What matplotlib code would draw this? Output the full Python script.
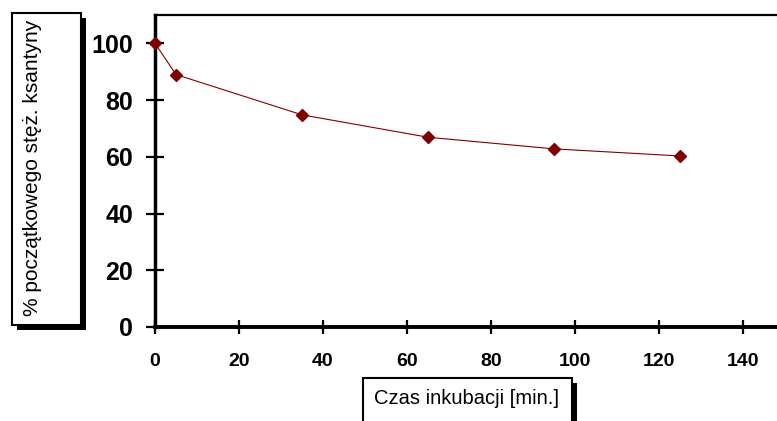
import matplotlib.pyplot as plt
from matplotlib.patches import Rectangle

# incubation time [min] and % of initial xanthine concentration
czas = [0, 5, 35, 65, 95, 125]
procent = [100, 89, 74.8, 66.9, 62.8, 60.3]
x_ticks = [0, 20, 40, 60, 80, 100, 120, 140]
y_ticks = [0, 20, 40, 60, 80, 100]

W, H = 777, 421
plt.rcParams['font.family'] = ['Liberation Sans', 'DejaVu Sans']

fig = plt.figure(figsize=(W / 100, H / 100), dpi=100)


def px(x, y):
    # pixel coords (top-left origin) -> figure fraction
    return x / W, 1 - y / H


left, top = px(155, 15)
right, bottom = px(785, 327)
ax = fig.add_axes([left, bottom, right - left, top - bottom])

ax.plot(czas, procent, color='#800000', lw=0.8, marker='D', ms=6.3,
        mfc='#800000', mec='#800000', clip_on=False, zorder=5)

ax.set_xlim(0, 150)
ax.set_ylim(0, 110)
ax.set_xticks(x_ticks)
ax.set_yticks(y_ticks)
ax.tick_params(axis='both', direction='inout', width=1.6, color='black')
ax.tick_params(axis='x', length=10.5, labelsize=14, pad=13.5)
ax.tick_params(axis='y', length=13, labelsize=18, pad=9.3)
for lab in ax.get_xticklabels() + ax.get_yticklabels():
    lab.set_fontweight('bold')

ax.spines['right'].set_visible(False)
ax.spines['left'].set_linewidth(2.5)
ax.spines['bottom'].set_linewidth(2.8)
ax.spines['top'].set_linewidth(1.6)


def box(x0, y0, x1, y1, off=5):
    # white box with black drop shadow, coords in pixels
    bx, by = px(x0 + off, y1 + off)
    fig.patches.append(Rectangle((bx, by), (x1 - x0) / W, (y1 - y0) / H,
                                 transform=fig.transFigure, facecolor='black',
                                 edgecolor='black', lw=0))
    bx, by = px(x0, y1)
    fig.patches.append(Rectangle((bx, by), (x1 - x0) / W, (y1 - y0) / H,
                                 transform=fig.transFigure, facecolor='white',
                                 edgecolor='black', lw=1.5))


box(12, 13, 81, 325)
box(363, 378, 572, 440)

tx, ty = px(33, 168)
fig.text(tx, ty, '% początkowego stęż. ksantyny', rotation=90,
         ha='center', va='center', fontsize=15)
tx, ty = px(467, 398)
fig.text(tx, ty, 'Czas inkubacji [min.]', ha='center', va='center', fontsize=14.5)

fig.savefig('out.png', dpi=100)
